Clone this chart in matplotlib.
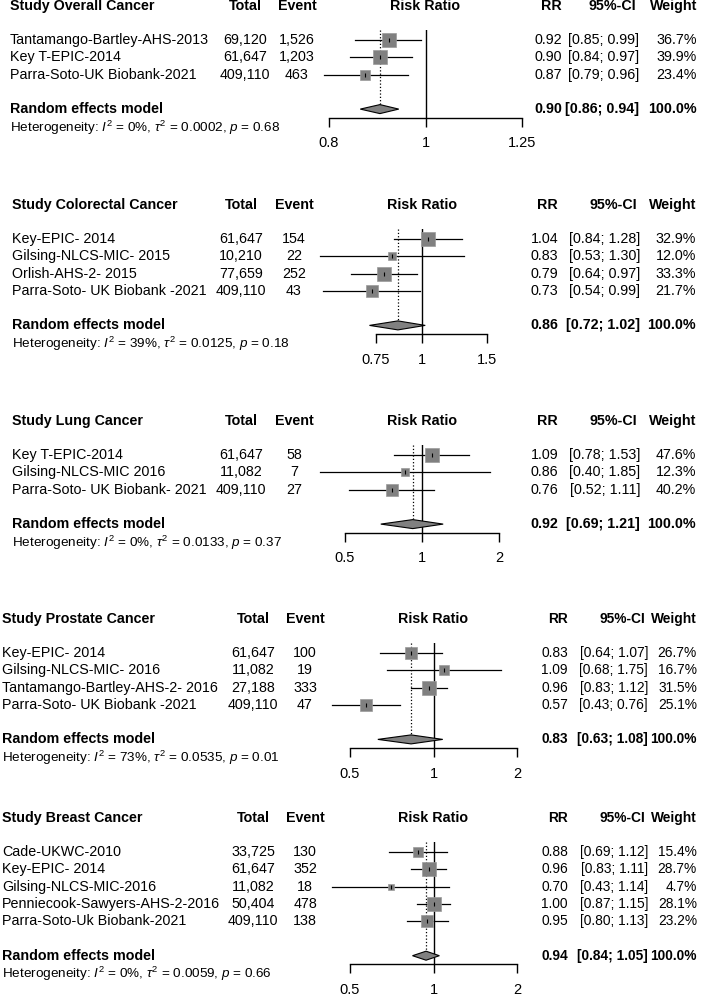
# %%
import numpy as np
import matplotlib.pyplot as plt
from matplotlib.patches import Polygon
from matplotlib.ticker import NullLocator

plt.rcParams['font.family'] = 'Liberation Sans'
plt.rcParams['mathtext.fontset'] = 'custom'
plt.rcParams['mathtext.rm'] = 'Liberation Sans'
plt.rcParams['mathtext.it'] = 'Liberation Sans:italic'
plt.rcParams['mathtext.bf'] = 'Liberation Sans:bold'

# %% data
overall_study = ['Tantamango-Bartley-AHS-2013', 'Key T-EPIC-2014', 'Parra-Soto-UK Biobank-2021']
overall_total = ['69,120', '61,647', '409,110']
overall_event = ['1,526', '1,203', '463']
overall_rr = [0.92, 0.90, 0.87]
overall_lo = [0.85, 0.84, 0.79]
overall_hi = [0.99, 0.97, 0.96]
overall_w = [36.7, 39.9, 23.4]
overall_sum = [0.90, 0.86, 0.94]
overall_het = ['0%', '0.0002', '0.68']
overall_ticks = [0.8, 1, 1.25]

colorectal_study = ['Key-EPIC- 2014', 'Gilsing-NLCS-MIC- 2015', 'Orlish-AHS-2- 2015',
                    'Parra-Soto- UK Biobank -2021']
colorectal_total = ['61,647', '10,210', '77,659', '409,110']
colorectal_event = ['154', '22', '252', '43']
colorectal_rr = [1.04, 0.83, 0.79, 0.73]
colorectal_lo = [0.84, 0.53, 0.64, 0.54]
colorectal_hi = [1.28, 1.30, 0.97, 0.99]
colorectal_w = [32.9, 12.0, 33.3, 21.7]
colorectal_sum = [0.86, 0.72, 1.02]
colorectal_het = ['39%', '0.0125', '0.18']
colorectal_ticks = [0.75, 1, 1.5]

lung_study = ['Key T-EPIC-2014', 'Gilsing-NLCS-MIC 2016', 'Parra-Soto- UK Biobank- 2021']
lung_total = ['61,647', '11,082', '409,110']
lung_event = ['58', '7', '27']
lung_rr = [1.09, 0.86, 0.76]
lung_lo = [0.78, 0.40, 0.52]
lung_hi = [1.53, 1.85, 1.11]
lung_w = [47.6, 12.3, 40.2]
lung_sum = [0.92, 0.69, 1.21]
lung_het = ['0%', '0.0133', '0.37']
lung_ticks = [0.5, 1, 2]

prostate_study = ['Key-EPIC- 2014', 'Gilsing-NLCS-MIC- 2016', 'Tantamango-Bartley-AHS-2- 2016',
                  'Parra-Soto- UK Biobank -2021']
prostate_total = ['61,647', '11,082', '27,188', '409,110']
prostate_event = ['100', '19', '333', '47']
prostate_rr = [0.83, 1.09, 0.96, 0.57]
prostate_lo = [0.64, 0.68, 0.83, 0.43]
prostate_hi = [1.07, 1.75, 1.12, 0.76]
prostate_w = [26.7, 16.7, 31.5, 25.1]
prostate_sum = [0.83, 0.63, 1.08]
prostate_het = ['73%', '0.0535', '0.01']
prostate_ticks = [0.5, 1, 2]

breast_study = ['Cade-UKWC-2010', 'Key-EPIC- 2014', 'Gilsing-NLCS-MIC-2016',
                'Penniecook-Sawyers-AHS-2-2016', 'Parra-Soto-Uk Biobank-2021']
breast_total = ['33,725', '61,647', '11,082', '50,404', '409,110']
breast_event = ['130', '352', '18', '478', '138']
breast_rr = [0.88, 0.96, 0.70, 1.00, 0.95]
breast_lo = [0.69, 0.83, 0.43, 0.87, 0.80]
breast_hi = [1.12, 1.11, 1.14, 1.15, 1.13]
breast_w = [15.4, 28.7, 4.7, 28.1, 23.2]
breast_sum = [0.94, 0.84, 1.05]
breast_het = ['0%', '0.0059', '0.66']
breast_ticks = [0.5, 1, 2]

panels = [
    ('Study Overall Cancer', overall_study, overall_total, overall_event, overall_rr,
     overall_lo, overall_hi, overall_w, overall_sum, overall_het, overall_ticks),
    ('Study Colorectal Cancer', colorectal_study, colorectal_total, colorectal_event, colorectal_rr,
     colorectal_lo, colorectal_hi, colorectal_w, colorectal_sum, colorectal_het, colorectal_ticks),
    ('Study Lung Cancer', lung_study, lung_total, lung_event, lung_rr,
     lung_lo, lung_hi, lung_w, lung_sum, lung_het, lung_ticks),
    ('Study Prostate Cancer', prostate_study, prostate_total, prostate_event, prostate_rr,
     prostate_lo, prostate_hi, prostate_w, prostate_sum, prostate_het, prostate_ticks),
    ('Study Breast Cancer', breast_study, breast_total, breast_event, breast_rr,
     breast_lo, breast_hi, breast_w, breast_sum, breast_het, breast_ticks),
]

# %% layout in pixels (figure is 708 x 996)
W, H = 708, 996
# first row y, study x, total centre, event centre, axis left px, axis right px,
# RR right, CI right, weight right, font size of right columns
layout = [
    (40, 10, 245, 297, 329, 522, 562, 639, 697, 10.3),
    (239, 12, 241, 294, 376, 487, 558, 640, 696, 10.3),
    (455, 12, 241, 294, 345, 499, 558, 640, 696, 10.3),
    (653, 2, 253, 305, 350, 517, 568, 648, 697, 9.9),
    (852, 2, 253, 305, 350, 517, 568, 648, 697, 9.9),
]
ROW = 17.3
FS = 10.3


def fx(x):
    return x / W


def fy(y):
    return 1 - y / H


def draw(fig, p, lay):
    title, study, total, event, rr, lo, hi, w, summ, het, ticks = p
    row0, sx, tc, ec, axl, axr, rr_r, ci_r, w_r, fr = lay
    n = len(study)
    rows = row0 + ROW * np.arange(n)
    head = row0 - 34
    re_y = rows[-1] + 34.5
    axis_y = re_y + 8.5
    het_y = re_y + 18.5
    top = head + 24

    # headers
    fig.text(fx(sx), fy(head), title, fontsize=FS, fontweight='bold', va='center')
    fig.text(fx(tc), fy(head), 'Total', fontsize=FS, fontweight='bold', va='center', ha='center')
    fig.text(fx(ec), fy(head), 'Event', fontsize=FS, fontweight='bold', va='center', ha='center')
    fig.text(fx(rr_r), fy(head), 'RR', fontsize=fr, fontweight='bold', va='center', ha='right')
    fig.text(fx(ci_r - 3), fy(head), '95%-CI', fontsize=fr, fontweight='bold', va='center', ha='right')
    fig.text(fx(w_r), fy(head), 'Weight', fontsize=fr, fontweight='bold', va='center', ha='right')

    # study rows
    for i in range(n):
        y = fy(rows[i])
        fig.text(fx(sx), y, study[i], fontsize=FS, va='center')
        fig.text(fx(tc), y, total[i], fontsize=FS, va='center', ha='center')
        fig.text(fx(ec), y, event[i], fontsize=FS, va='center', ha='center')
        fig.text(fx(rr_r), y, f'{rr[i]:.2f}', fontsize=fr, va='center', ha='right')
        fig.text(fx(ci_r), y, f'[{lo[i]:.2f}; {hi[i]:.2f}]', fontsize=fr, va='center', ha='right')
        fig.text(fx(w_r), y, f'{w[i]:.1f}%', fontsize=fr, va='center', ha='right')

    # random effects row
    fig.text(fx(sx), fy(re_y), 'Random effects model', fontsize=FS, fontweight='bold', va='center')
    fig.text(fx(rr_r), fy(re_y), f'{summ[0]:.2f}', fontsize=fr, fontweight='bold', va='center', ha='right')
    fig.text(fx(ci_r), fy(re_y), f'[{summ[1]:.2f}; {summ[2]:.2f}]', fontsize=fr,
             fontweight='bold', va='center', ha='right')
    fig.text(fx(w_r), fy(re_y), '100.0%', fontsize=fr, fontweight='bold', va='center', ha='right')
    fig.text(fx(sx), fy(het_y),
             'Heterogeneity: $I^2$ = ' + het[0] + r', $\tau^2$ = ' + het[1] + ', $p$ = ' + het[2],
             fontsize=9.7, va='center')

    # forest area
    ax = fig.add_axes([fx(axl), fy(axis_y), (axr - axl) / W, (axis_y - top) / H])
    ax.set_xscale('log')
    ax.set_xlim(ticks[0], ticks[-1])
    ax.set_ylim(axis_y, top)
    ax.patch.set_alpha(0)
    for s in ['top', 'left', 'right']:
        ax.spines[s].set_visible(False)
    ax.spines['bottom'].set_linewidth(1.0)
    ax.set_yticks([])
    ax.set_xticks(ticks)
    ax.set_xticklabels([f'{t:g}' for t in ticks])
    ax.xaxis.set_minor_locator(NullLocator())
    ax.tick_params(axis='x', direction='out', length=6.5, width=1.0, pad=7, labelsize=10.5)

    head_x = ax.transData.transform((1, 0))[0]
    fig.text(head_x / W, fy(head), 'Risk Ratio', fontsize=FS, fontweight='bold', va='center', ha='center')

    ax.axvline(1, color='black', lw=1.0)
    ax.plot([summ[0], summ[0]], [top, re_y], ls=':', color='black', lw=0.9)

    wmax = max(w)
    for i in range(n):
        ax.plot([lo[i], hi[i]], [rows[i], rows[i]], color='black', lw=0.9, clip_on=False)
        ax.plot(rr[i], rows[i], marker='s', ms=10.1 * np.sqrt(w[i] / wmax), color='#808080',
                mec='#9a9a9a', mew=0.5, clip_on=False)
        ax.plot(rr[i], rows[i], marker='|', ms=3.5, color='black', mew=0.8, clip_on=False)

    dia = Polygon([(summ[1], re_y), (summ[0], re_y - 4.5), (summ[2], re_y), (summ[0], re_y + 4.5)],
                  closed=True, facecolor='#808080', edgecolor='black', lw=0.8, clip_on=False, zorder=3)
    ax.add_patch(dia)


fig = plt.figure(figsize=(W / 100, H / 100), dpi=100)
for p, lay in zip(panels, layout):
    draw(fig, p, lay)

fig.savefig('out.png', dpi=100)
